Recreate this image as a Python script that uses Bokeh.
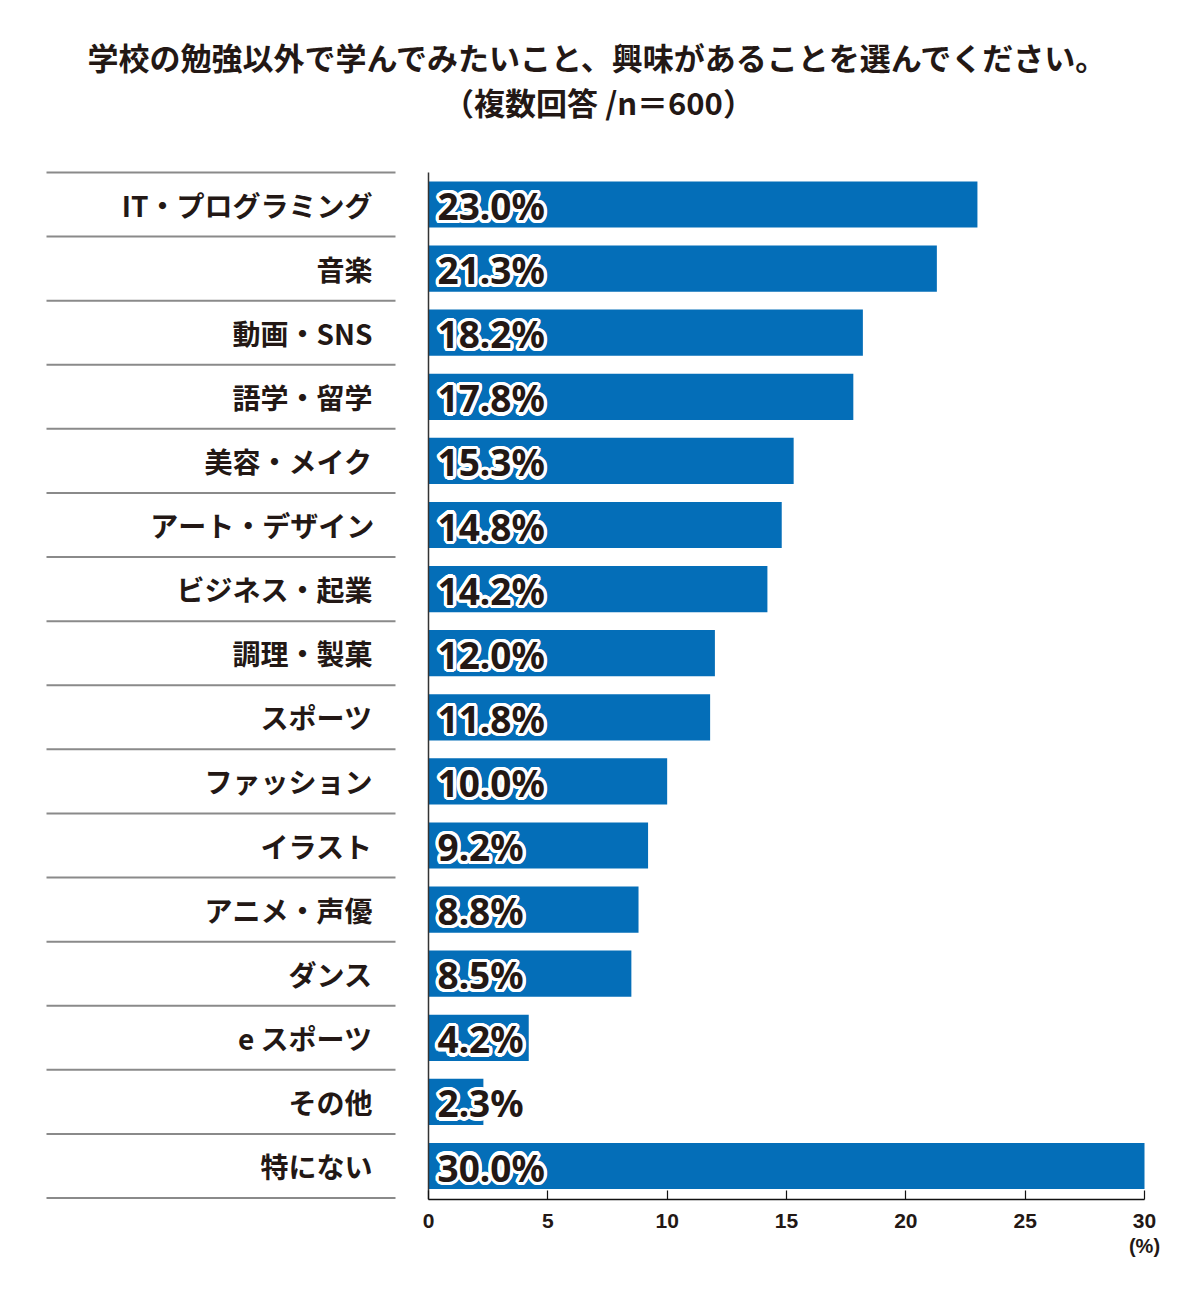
import math
from bokeh.plotting import figure
from bokeh.models import Range1d, LinearAxis, FixedTicker
from bokeh.core.properties import value
from bokeh.embed import file_html
from bokeh.resources import INLINE

# --- data ---------------------------------------------------------------
categories = [
    "IT・プログラミング", "音楽", "動画・SNS", "語学・留学", "美容・メイク",
    "アート・デザイン", "ビジネス・起業", "調理・製菓", "スポーツ", "ファッション",
    "イラスト", "アニメ・声優", "ダンス", "e スポーツ", "その他", "特にない",
]
percent = [23.0, 21.3, 18.2, 17.8, 15.3, 14.8, 14.2, 12.0, 11.8, 10.0,
           9.2, 8.8, 8.5, 4.2, 2.3, 30.0]
x_ticks = [0, 5, 10, 15, 20, 25, 30]
title_lines = ["学校の勉強以外で学んでみたいこと、興味があることを選んでください。",
               "（複数回答 /n＝600）"]

# --- layout helpers (screen pixel -> data units) ------------------------
X_PER_PX = 30 / 716.0       # 0..30 spans 716 px, zero at 428 px
ROW_PX = 64.1               # vertical pitch of one row
ROW0_PX = 204.0             # centre of the first row
FRAME_H = 1199              # frame bottom sits on the value axis


def xd(px):
    return (px - 428) * X_PER_PX


def yd(py):
    return (py - ROW0_PX) / ROW_PX


rows = list(range(len(categories)))
labels = [f"{v:.1f}%" for v in percent]

p = figure(
    width=1200, height=1300,
    x_range=Range1d(xd(0), xd(1200)),
    y_range=Range1d(yd(FRAME_H), yd(0)),
    output_backend="svg", toolbar_location=None,
    x_axis_location=None, y_axis_location=None,
    min_border_left=0, min_border_right=0, min_border_top=0,
    min_border_bottom=1300 - FRAME_H,
    background_fill_color="white", border_fill_color="white",
    outline_line_color=None,
)
p.xgrid.visible = False
p.ygrid.visible = False

DARK = "#231815"
BLUE = "#046EB8"

# title
p.text(x=[xd(598), xd(598)], y=[yd(56), yd(101)], text=title_lines,
       text_align="center", text_baseline="middle",
       text_font=value("Noto Sans CJK JP"), text_font_style="bold",
       text_font_size="31px", text_color=DARK)

# separators of the category column
bounds = [r - 0.5 for r in rows] + [rows[-1] + 0.5]
p.segment(x0=xd(46), x1=xd(395), y0=bounds, y1=bounds,
          line_color="#8a8a8a", line_width=2)

# category names
p.text(x=xd(372), y=rows, text=categories,
       text_align="right", text_baseline="middle",
       text_font=value("Noto Sans CJK JP"), text_font_style="bold",
       text_font_size="28px", text_color=DARK)

# bars
p.hbar(y=rows, left=0, right=percent, height=0.72,
       fill_color=BLUE, line_color=None)

# vertical base line
p.segment(x0=[0], x1=[0], y0=[bounds[0]], y1=[yd(FRAME_H)],
          line_color="#333333", line_width=1.5)

# value labels: white halo drawn as shifted copies, dark text on top
label_style = dict(text_align="left", text_baseline="middle",
                   text_font=value("Noto Sans"), text_font_style="bold",
                   text_font_size="37px")
halo_r = 3.2
for k in range(20):
    a = 2 * math.pi * k / 20
    p.text(x=0, y=rows, text=labels,
           x_offset=9 + halo_r * math.cos(a), y_offset=1 + halo_r * math.sin(a),
           text_color="white", **label_style)
p.text(x=0, y=rows, text=labels, x_offset=9, y_offset=1,
       text_color=DARK, **label_style)

# value axis
ax = LinearAxis(bounds=(0, 30), ticker=FixedTicker(ticks=x_ticks))
ax.axis_line_color = "#111111"
ax.axis_line_width = 1.5
ax.major_tick_in = 9
ax.major_tick_out = 0
ax.major_tick_line_color = "#111111"
ax.major_tick_line_width = 1.2
ax.minor_tick_line_color = None
ax.major_label_standoff = 14
ax.major_label_text_font = "Liberation Sans"
ax.major_label_text_font_style = "bold"
ax.major_label_text_font_size = "21px"
ax.major_label_text_color = DARK
p.add_layout(ax, "below")

# unit line under the last tick
unit = LinearAxis(ticker=FixedTicker(ticks=[30]),
                  major_label_overrides={30: "(%)"})
unit.axis_line_color = None
unit.major_tick_line_color = None
unit.minor_tick_line_color = None
unit.major_tick_in = 0
unit.major_tick_out = 0
unit.major_label_standoff = 4
unit.major_label_text_font = "Liberation Sans"
unit.major_label_text_font_style = "bold"
unit.major_label_text_font_size = "20px"
unit.major_label_text_color = DARK
p.add_layout(unit, "below")

open("out.html", "w").write(file_html(p, INLINE))
